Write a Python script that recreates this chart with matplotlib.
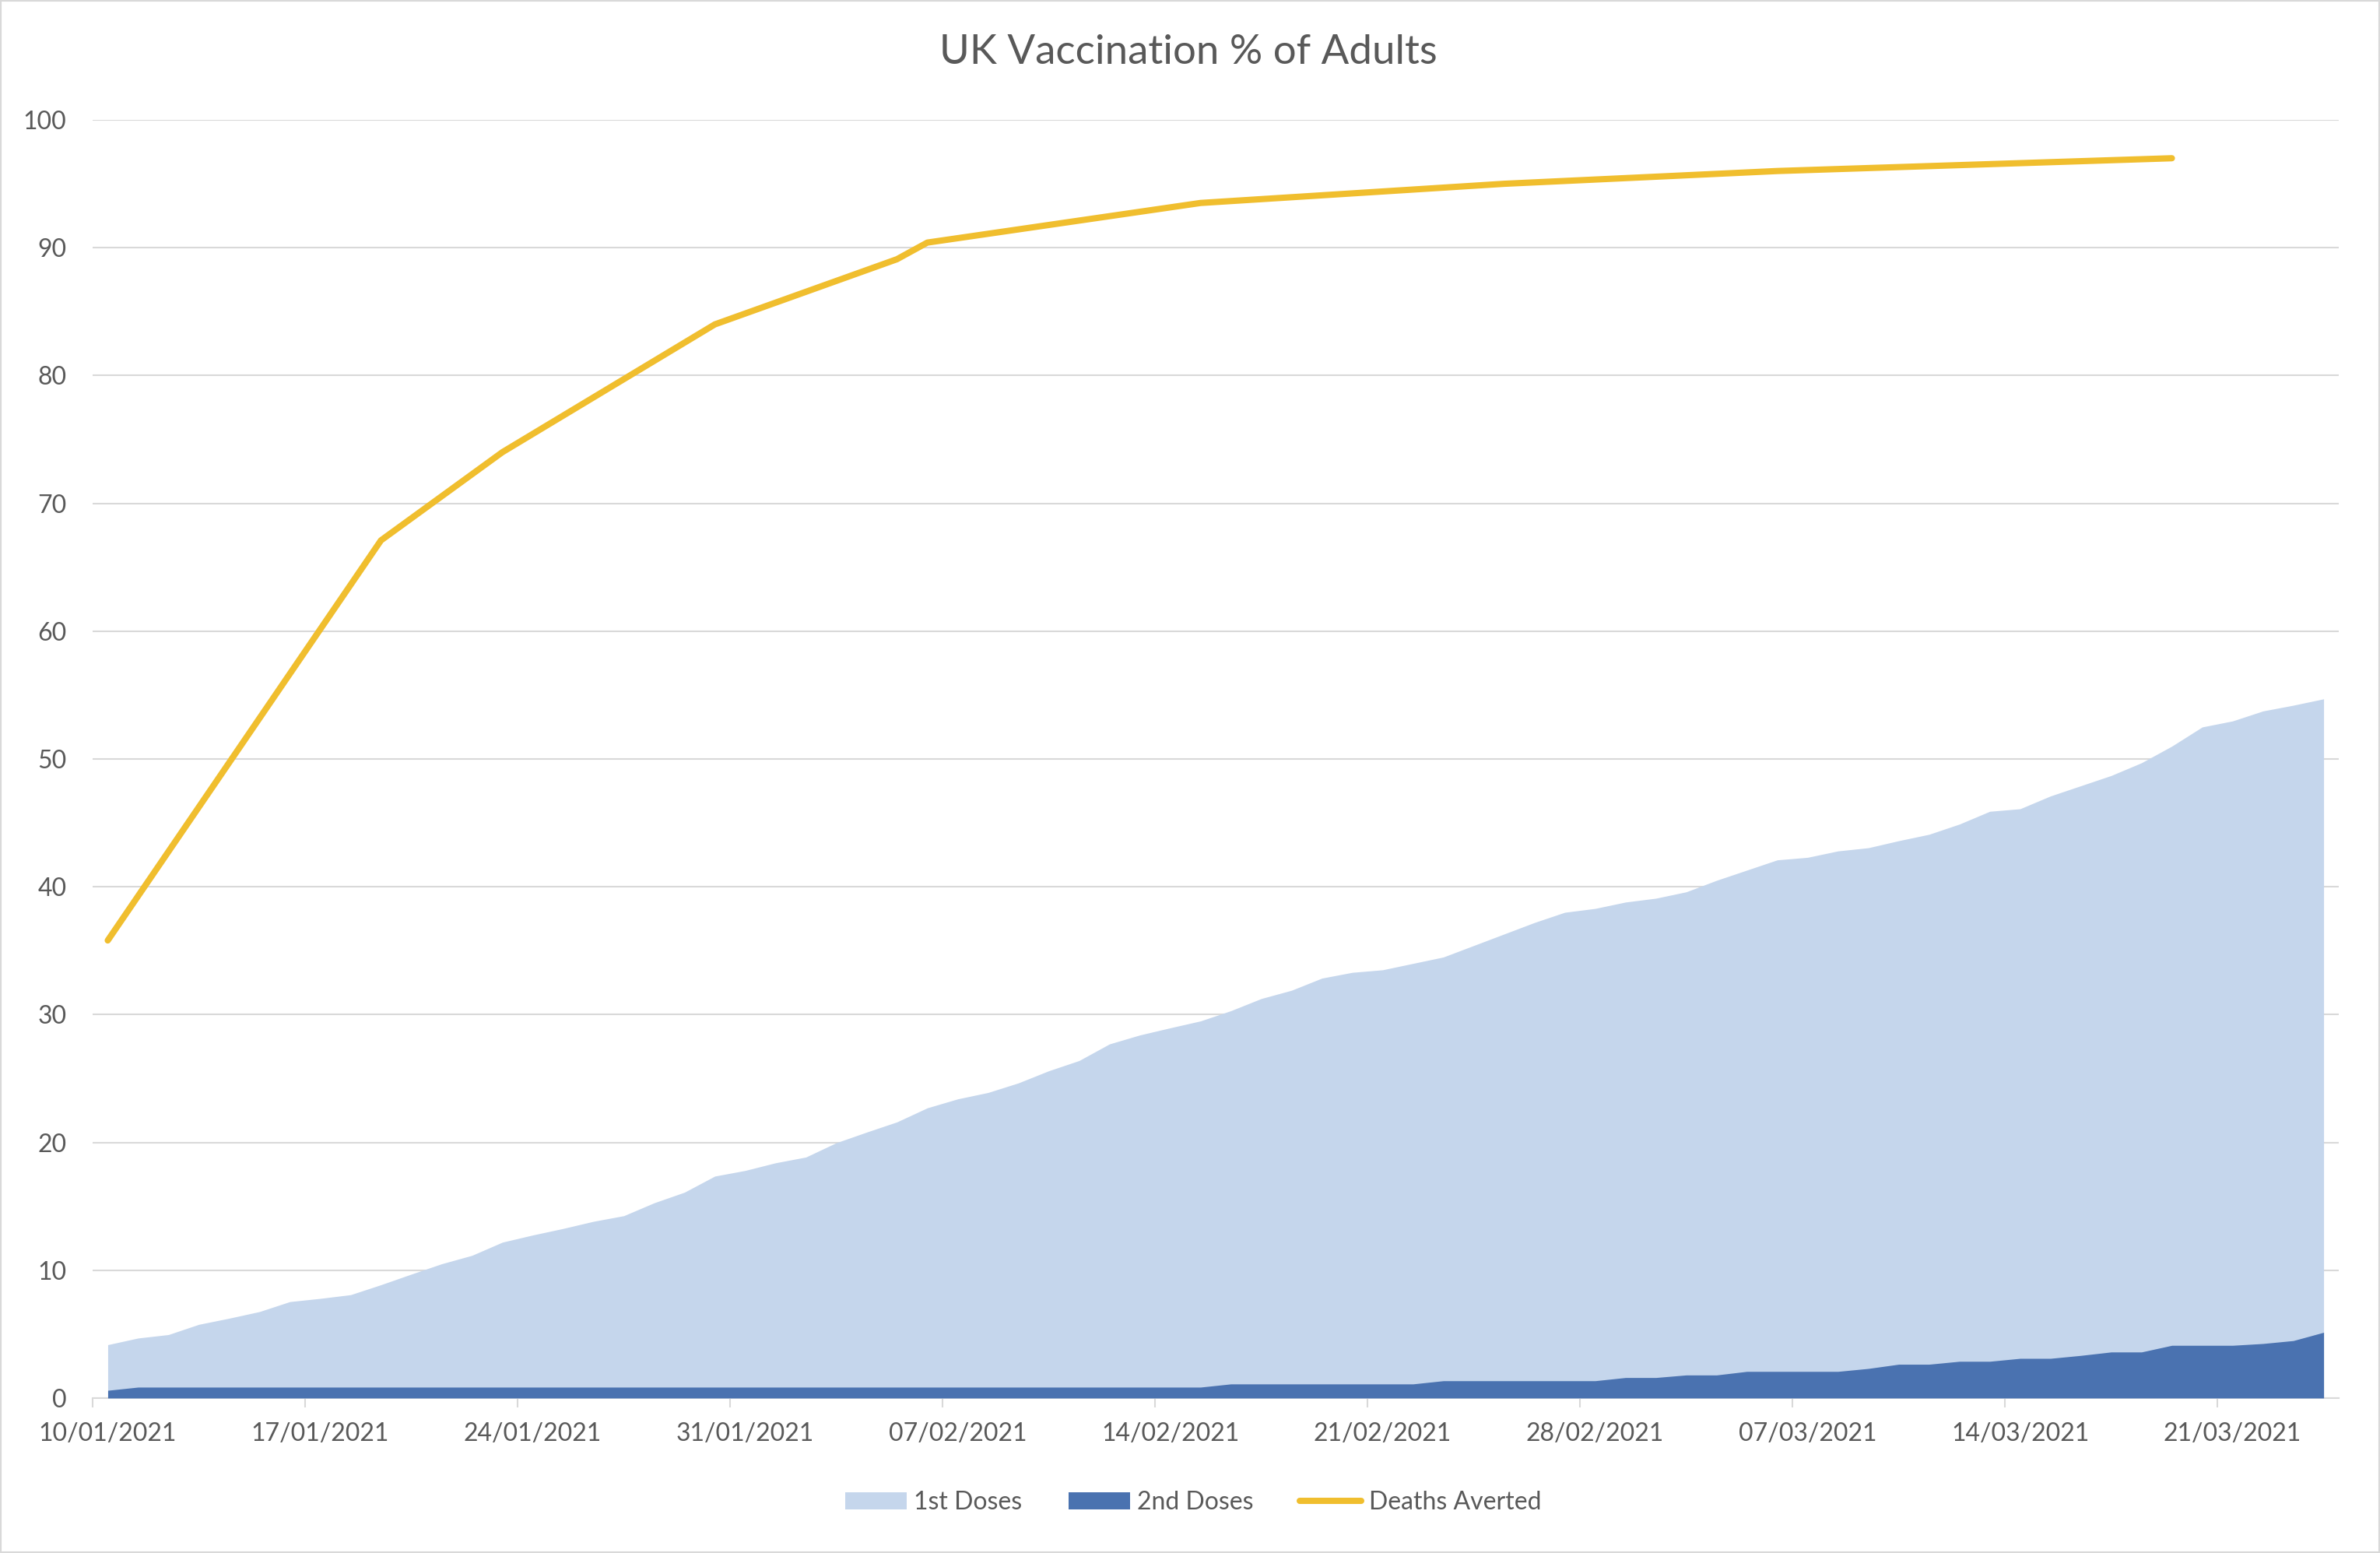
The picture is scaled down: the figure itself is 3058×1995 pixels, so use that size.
import matplotlib
matplotlib.use("Agg")
import matplotlib.pyplot as plt
import pandas as pd
from matplotlib.patches import Patch, Rectangle
from matplotlib.lines import Line2D

plt.rcParams['font.family'] = ['Lato', 'DejaVu Sans']

# ---------------- data ----------------
start_date = "2021-01-10"
end_date = "2021-03-24"

first_doses = [4.17, 4.69, 4.96, 5.76, 6.24, 6.76, 7.54, 7.79, 8.08, 8.86,
               9.69, 10.5, 11.16, 12.19, 12.75, 13.26, 13.82, 14.26, 15.27, 16.1,
               17.36, 17.8, 18.4, 18.85, 19.97, 20.8, 21.6, 22.7, 23.4, 23.9,
               24.65, 25.6, 26.4, 27.7, 28.4, 28.96, 29.5, 30.3, 31.25, 31.9,
               32.85, 33.3, 33.5, 34.0, 34.5, 35.4, 36.3, 37.2, 38.0, 38.3,
               38.8, 39.1, 39.6, 40.5, 41.3, 42.1, 42.3, 42.8, 43.05, 43.6,
               44.1, 44.9, 45.9, 46.1, 47.1, 47.9, 48.7, 49.7, 51.0, 52.5,
               52.97, 53.75, 54.2, 54.7]

second_doses = [0.6] + [0.85] * 36 + [1.1] * 7 + [1.35] * 6 + [1.6] * 2 + \
               [1.8] * 2 + [2.08] * 4 + [2.31] + [2.64] * 2 + [2.87] * 2 + \
               [3.1] * 2 + [3.33] + [3.6] * 2 + [4.12] * 3 + [4.26, 4.49, 5.14]

deaths_dates = ["2021-01-10", "2021-01-19", "2021-01-23", "2021-01-30", "2021-02-05",
                "2021-02-06", "2021-02-15", "2021-02-25", "2021-03-06", "2021-03-19"]
deaths_averted = [35.8, 67.1, 74.0, 84.0, 89.1, 90.4, 93.5, 95.0, 96.0, 97.0]

tick_labels = ["10/01/2021", "17/01/2021", "24/01/2021", "31/01/2021", "07/02/2021",
               "14/02/2021", "21/02/2021", "28/02/2021", "07/03/2021", "14/03/2021",
               "21/03/2021"]

title = "UK Vaccination % of Adults"
series_names = ["1st Doses", "2nd Doses", "Deaths Averted"]

# ---------------- styling ----------------
c_first = "#C5D6EC"
c_second = "#4A72B0"
c_line = "#F0BE2E"
c_grid = "#D9D9D9"
c_text = "#595959"
fs = 11.5

# ---------------- figure ----------------
fig = plt.figure(figsize=(15.29, 9.975), dpi=200)
ax = fig.add_axes([0.0389, 0.0998, 0.9438, 0.823])

t0 = pd.Timestamp(start_date)
days = pd.date_range(start_date, end_date, freq="D")
x = [(d - t0).days + 0.5 for d in days]
xl = [(pd.Timestamp(d) - t0).days + 0.5 for d in deaths_dates]
xticks = [(pd.to_datetime(t, format="%d/%m/%Y") - t0).days for t in tick_labels]

ax.fill_between(x, 0, first_doses, color=c_first, lw=0, zorder=2)
ax.fill_between(x, 0, second_doses, color=c_second, lw=0, zorder=3)
ax.plot(xl, deaths_averted, color=c_line, lw=2.9, solid_capstyle="round",
        solid_joinstyle="round", zorder=4)

ax.set_xlim(0, len(days))
ax.set_ylim(0, 100)
ax.set_yticks(range(0, 101, 10))
# tick marks at day boundaries, labels centred on the day
ax.set_xticks(xticks)
ax.set_xticklabels([""] * len(xticks))
ax.set_xticks([t + 0.5 for t in xticks], minor=True)
ax.set_xticklabels(tick_labels, minor=True)

ax.grid(axis="y", color=c_grid, lw=0.75, zorder=0)
ax.set_axisbelow(True)
for s in ["top", "right", "left"]:
    ax.spines[s].set_visible(False)
ax.spines["bottom"].set_color(c_grid)
ax.spines["bottom"].set_linewidth(0.75)
ax.spines["bottom"].set_zorder(1)

ax.tick_params(axis="y", length=0, pad=12, labelsize=fs, labelcolor=c_text)
ax.tick_params(axis="x", which="major", length=4.3, width=0.75, color=c_grid)
ax.tick_params(axis="x", which="minor", length=0, pad=11.3,
               labelsize=fs, labelcolor=c_text)

fig.text(0.4993, 0.966, title, ha="center", va="center", fontsize=19, color=c_text)

handles = [Patch(facecolor=c_first, edgecolor="none"),
           Patch(facecolor=c_second, edgecolor="none"),
           Line2D([0], [0], color=c_line, lw=2.9, solid_capstyle="round")]
leg = fig.legend(handles, series_names, loc="center", bbox_to_anchor=(0.5013, 0.0326),
                 ncol=3, frameon=False, fontsize=fs, handlelength=2.47,
                 handleheight=0.66, handletextpad=0.3, columnspacing=1.86)
for t in leg.get_texts():
    t.set_color(c_text)

fig.add_artist(Rectangle((0, 0), 1, 1, transform=fig.transFigure, fill=False,
                         edgecolor=c_grid, lw=1.5))

fig.savefig("out.png", dpi=200)
